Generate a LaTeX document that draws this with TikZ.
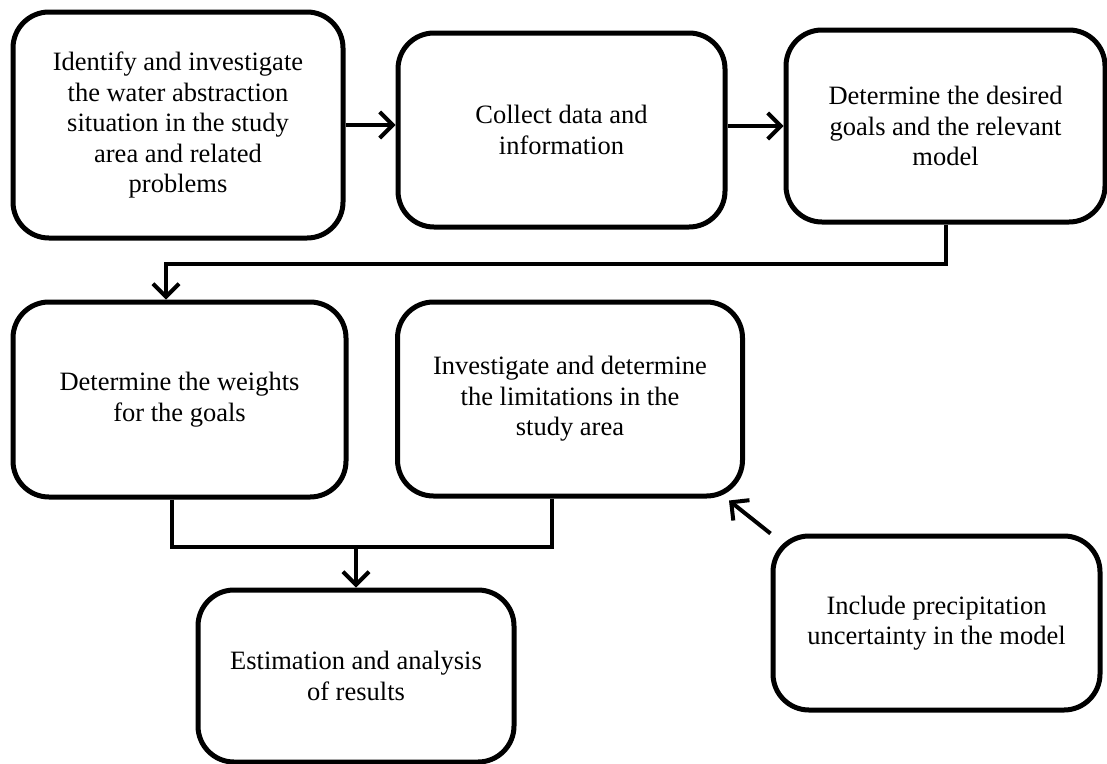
\documentclass[tikz,border=0pt]{standalone}
\usepackage{fontspec}
\setmainfont{Liberation Serif}
\usetikzlibrary{arrows.meta,calc}
\begin{document}
\begin{tikzpicture}[x=1pt,y=-1pt,
  box/.style={draw, line width=5pt, rounded corners=36pt, rectangle, inner sep=0pt, align=center,
    font=\fontsize{26.5}{30.5}\selectfont},
  conn/.style={line width=4pt},
  arr/.style={conn, -{Straight Barb[length=13pt,width=26pt,line width=4pt]}}]
\useasboundingbox (0,0) rectangle (1107,763);
\node[box, minimum width=330pt, minimum height=226pt] (A) at (178,125)
  {Identify and investigate\\the water abstraction\\situation in the study\\area and related\\problems};
\node[box, minimum width=327pt, minimum height=194pt] (B) at (561.5,130)
  {Collect data and\\information};
\node[box, minimum width=319pt, minimum height=192pt] (C) at (945.5,126)
  {Determine the desired\\goals and the relevant\\model};
\node[box, minimum width=333pt, minimum height=195pt] (D) at (179.5,399.5)
  {Determine the weights\\for the goals};
\node[box, minimum width=345pt, minimum height=194pt] (E) at (570,399)
  {Investigate and determine\\the limitations in the\\study area};
\node[box, minimum width=327pt, minimum height=174pt] (F) at (936.5,623)
  {Include precipitation\\uncertainty in the model};
\node[box, minimum width=316pt, minimum height=172pt] (G) at (356,676)
  {Estimation and analysis\\of results};
% top row arrows
\draw[arr] (A.east) -- (B.west |- A.east);
\draw[arr] (B.east |- C.west) -- (C.west);
% C to D
\coordinate (cd) at (166,264);
\draw[arr] (C.south) |- (cd) -- (D.north -| cd);
% D, E to G
\coordinate (dx) at (172,547);
\coordinate (ex) at (552,547);
\draw[conn] (D.south -| dx) -- (dx) -- (ex) -- (E.south -| ex);
\draw[arr] (G.north |- dx) -- (G.north);
% F to E
\coordinate (fe) at ($(E.south east)+(-16,2)$);
\draw[arr] (F.north west) -- (fe);
\end{tikzpicture}
\end{document}
